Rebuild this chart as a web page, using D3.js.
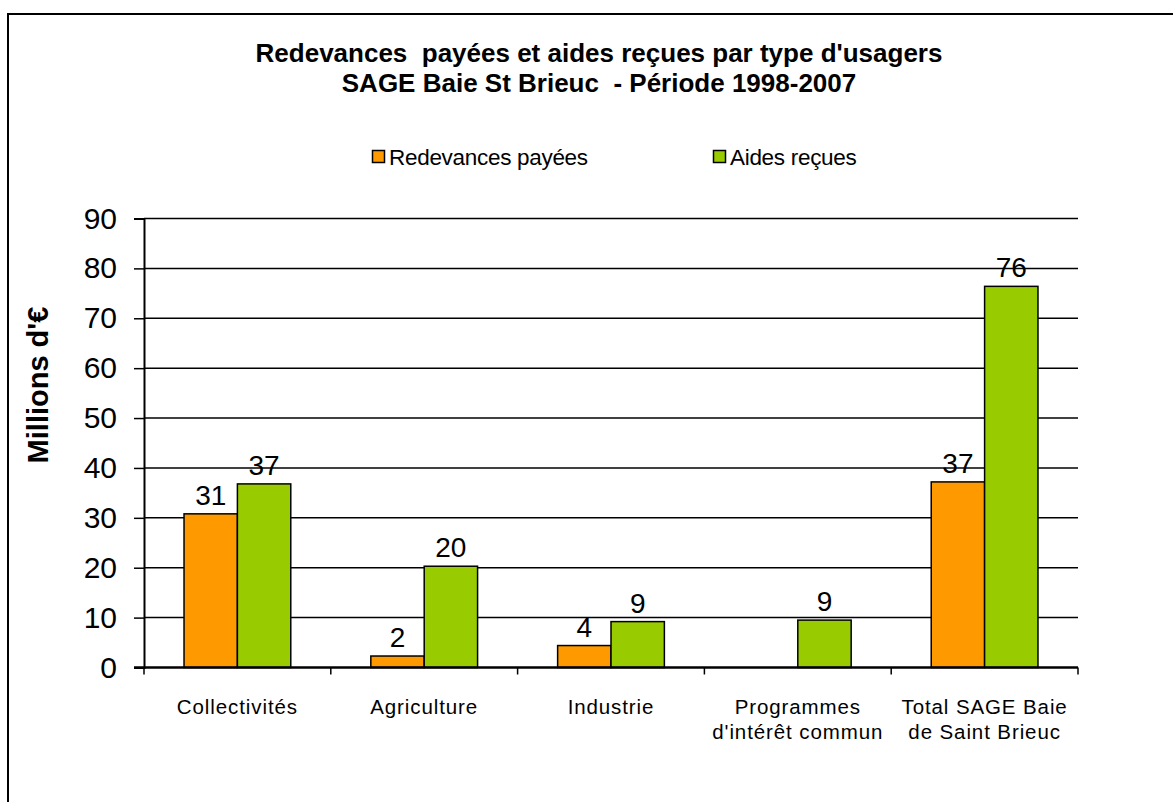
<!DOCTYPE html>
<html>
<head>
<meta charset="utf-8">
<script src="https://cdn.jsdelivr.net/npm/d3@7"></script>
<style>
  body { margin: 0; background: #fff; font-family: "Liberation Sans", Arial, sans-serif; }
  text { white-space: pre; }
</style>
</head>
<body>
<div id="chart"></div>
<script>
// data
const categories = [
  ["Collectivités"],
  ["Agriculture"],
  ["Industrie"],
  ["Programmes", "d'intérêt commun"],
  ["Total SAGE Baie", "de Saint Brieuc"]
];
const seriesNames = ["Redevances payées", "Aides reçues"];
const redevances = [30.8, 2.3, 4.4, 0, 37.2];
const aides = [36.8, 20.3, 9.2, 9.5, 76.4];
const redevLabels = ["31", "2", "4", "", "37"];
const aidesLabels = ["37", "20", "9", "9", "76"];
const yTicks = [0, 10, 20, 30, 40, 50, 60, 70, 80, 90];
const colors = ["#ff9900", "#99cc00"];

const width = 1173, height = 802;
const margin = { left: 144, right: 95, top: 218.5, bottom: 134.5 };

const svg = d3.select("#chart").append("svg")
  .attr("width", width)
  .attr("height", height);

// outer frame
svg.append("rect")
  .attr("x", 8).attr("y", 14)
  .attr("width", 1180).attr("height", 800)
  .attr("fill", "none").attr("stroke", "#000").attr("stroke-width", 2);

// title
const title = svg.append("text")
  .attr("text-anchor", "middle")
  .attr("font-weight", "bold")
  .attr("font-size", 26);
title.append("tspan").attr("x", 599).attr("y", 62).text("Redevances  payées et aides reçues par type d'usagers");
title.append("tspan").attr("x", 599).attr("y", 92).text("SAGE Baie St Brieuc  - Période 1998-2007");

// legend
const legendX = [372, 713];
const legend = svg.selectAll("g.legend")
  .data(seriesNames)
  .join("g")
  .attr("class", "legend")
  .attr("transform", (d, i) => `translate(${legendX[i]},150)`);
legend.append("rect")
  .attr("x", 0.5).attr("y", 0.5)
  .attr("width", 12).attr("height", 12)
  .attr("fill", (d, i) => colors[i])
  .attr("stroke", "#000").attr("stroke-width", 1.5);
legend.append("text")
  .attr("x", 17).attr("y", 15)
  .attr("font-size", 22.5)
  .attr("letter-spacing", -0.3)
  .text(d => d);

const x = d3.scaleBand()
  .domain(d3.range(categories.length))
  .range([margin.left, width - margin.right]);

const y = d3.scaleLinear()
  .domain([0, 90])
  .range([height - margin.bottom, margin.top]);

// gridlines
svg.append("g")
  .selectAll("line")
  .data(yTicks.slice(1))
  .join("line")
  .attr("x1", margin.left).attr("x2", width - margin.right)
  .attr("y1", d => y(d)).attr("y2", d => y(d))
  .attr("stroke", "#000").attr("stroke-width", 1.5);

// y axis
const yAxis = svg.append("g")
  .attr("transform", `translate(${margin.left},0)`)
  .call(d3.axisLeft(y).tickValues(yTicks).tickSize(10).tickPadding(17));
yAxis.select(".domain").attr("stroke-width", 2);
yAxis.selectAll(".tick line").attr("stroke-width", 1.5);
yAxis.selectAll("text")
  .attr("font-size", 30)
  .attr("font-family", "Liberation Sans, Arial, sans-serif")
  .attr("fill", "#000");

svg.append("text")
  .attr("transform", "translate(48,385) rotate(-90)")
  .attr("text-anchor", "middle")
  .attr("font-weight", "bold")
  .attr("font-size", 29)
  .text("Millions d'€");

// bars
const inner = d3.scaleBand()
  .domain([0, 1])
  .range([0, x.bandwidth()])
  .paddingOuter(0.75)
  .paddingInner(0);

const series = [redevances, aides];
const labels = [redevLabels, aidesLabels];

series.forEach((vals, s) => {
  svg.append("g")
    .selectAll("rect")
    .data(vals)
    .join("rect")
    .attr("x", (d, i) => x(i) + inner(s))
    .attr("y", d => y(d))
    .attr("width", inner.bandwidth())
    .attr("height", d => y(0) - y(d))
    .attr("fill", colors[s])
    .attr("stroke", "#000")
    .attr("stroke-width", d => d > 0 ? 1.5 : 0);

  svg.append("g")
    .selectAll("text")
    .data(vals)
    .join("text")
    .attr("x", (d, i) => x(i) + inner(s) + inner.bandwidth() / 2)
    .attr("y", d => y(d) - 9)
    .attr("text-anchor", "middle")
    .attr("font-size", 28)
    .text((d, i) => labels[s][i]);
});

// x axis
const xAxis = svg.append("g")
  .attr("transform", `translate(0,${y(0)})`);
xAxis.append("line")
  .attr("x1", margin.left - 10).attr("x2", width - margin.right)
  .attr("stroke", "#000").attr("stroke-width", 2.5);
xAxis.selectAll("line.tick")
  .data(d3.range(categories.length + 1))
  .join("line")
  .attr("class", "tick")
  .attr("x1", i => i < categories.length ? x(i) : x(i - 1) + x.bandwidth())
  .attr("x2", i => i < categories.length ? x(i) : x(i - 1) + x.bandwidth())
  .attr("y1", 0).attr("y2", 7)
  .attr("stroke", "#000").attr("stroke-width", 1.5);

const catText = svg.append("g")
  .selectAll("text")
  .data(categories)
  .join("text")
  .attr("text-anchor", "middle")
  .attr("font-size", 20.5)
  .attr("letter-spacing", 0.9);
catText.selectAll("tspan")
  .data((d, i) => d.map(line => ({ line, i })))
  .join("tspan")
  .attr("x", d => x(d.i) + x.bandwidth() / 2)
  .attr("y", (d, j) => y(0) + 46 + j * 25)
  .text(d => d.line);
</script>
</body>
</html>
